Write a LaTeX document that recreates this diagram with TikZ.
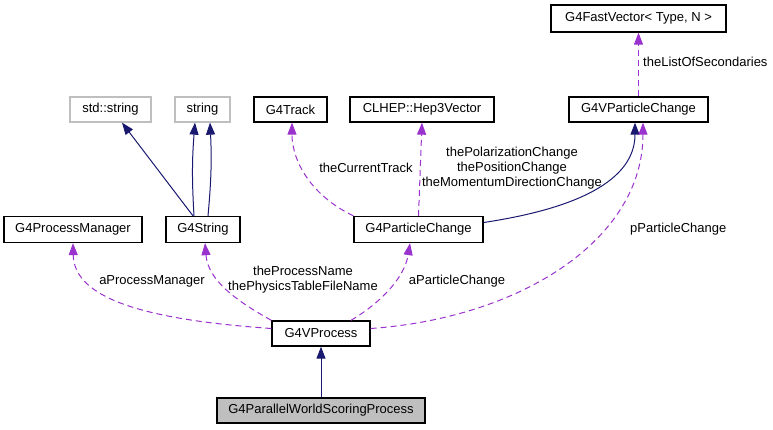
\documentclass[tikz,border=0pt]{standalone}
\usepackage{fontspec}
\setmainfont{Liberation Sans}
\usetikzlibrary{arrows.meta}
\definecolor{inhblue}{HTML}{191970}
\definecolor{usepurple}{HTML}{9A32CD}

\begin{document}
\begin{tikzpicture}[x=1pt,y=-1pt,every text node part/.style={align=center},font=\fontsize{13}{15}\selectfont,
  cls/.style={draw=black,fill=white,line width=1.3pt,inner sep=0pt,minimum height=25pt},
  extcls/.style={cls,draw=black!25},
  curcls/.style={cls,fill=black!25},
  inherit/.style={draw=inhblue,line width=1pt,-{Triangle[length=12pt,width=9pt]}},
  usage/.style={draw=usepurple,line width=1pt,dash pattern=on 6pt off 4pt,-{Triangle[length=12pt,width=9pt]}},
  lbl/.style={inner sep=0pt}]
\useasboundingbox (0,0) rectangle (773,429);
\node[cls,minimum width=175pt,minimum height=27pt] (fastvec) at (638.5,18.5) {G4FastVector< Type, N >};
\node[extcls,minimum width=81pt] (stdstring) at (110.5,109.5) {std::string};
\node[extcls,minimum width=55pt] (string) at (202.5,109.5) {string};
\node[cls,minimum width=73pt] (track) at (290.5,109.5) {G4Track};
\node[cls,minimum width=144pt] (hep) at (422,109.5) {CLHEP::Hep3Vector};
\node[cls,minimum width=139pt] (vpc) at (638.5,109.5) {G4VParticleChange};
\node[cls,minimum width=138pt,minimum height=26pt] (pm) at (73,229.5) {G4ProcessManager};
\node[cls,minimum width=74pt,minimum height=26pt] (g4string) at (203,229.5) {G4String};
\node[cls,minimum width=129pt,minimum height=26pt] (pc) at (418.5,229.5) {G4ParticleChange};
\node[cls,minimum width=98pt] (vproc) at (321,333.5) {G4VProcess};
\node[curcls,minimum width=208pt] (pwsp) at (321,410.5) {G4ParallelWorldScoringProcess};

\draw[inherit] ([xshift=-10pt]g4string.north) -- ([xshift=11.5pt]stdstring.south);
\draw[inherit] ([xshift=-9pt]g4string.north) to[bend left=4] ([xshift=-7.5pt]string.south);
\draw[inherit] ([xshift=5pt]g4string.north) to[bend right=4] ([xshift=7.5pt]string.south);
\draw[usage] (pc.north west) .. controls (310,195) and (292,160) .. ([xshift=1.5pt]track.south);
\node[lbl] (lcurtrack) at (366,168) {theCurrentTrack};
\draw[usage] (pc.north) -- (hep.south);
\node[lbl] (lhep) at (512,168) {thePolarizationChange\\thePositionChange\\theMomentumDirectionChange};
\draw[inherit] ([yshift=7pt]pc.east) .. controls (600,205) and (635,170) .. ([xshift=-3.5pt]vpc.south);
\draw[usage] (vpc.north) -- (fastvec.south);
\node[lbl,anchor=west] (lsec) at (643,62) {theListOfSecondaries};
\draw[usage] ([yshift=5pt]vproc.east) .. controls (520,318) and (643,240) .. ([xshift=4.5pt]vpc.south);
\node[lbl,anchor=west] (lvpc) at (630,229) {pParticleChange};
\draw[usage] ([yshift=5pt]vproc.west) .. controls (150,320) and (74,300) .. (pm.south);
\node[lbl] (lpm) at (152,281) {aProcessManager};
\draw[usage] (vproc.north west) .. controls (235,300) and (208,280) .. ([xshift=2pt]g4string.south);
\node[lbl] (lname) at (303,280) {theProcessName\\thePhysicsTableFileName};
\draw[usage] ([xshift=30pt]vproc.north) .. controls (385,300) and (405,275) .. ([xshift=-8.5pt]pc.south);
\node[lbl] (lpc) at (457,281) {aParticleChange};
\draw[inherit] (pwsp.north) -- (vproc.south);
\end{tikzpicture}
\end{document}
